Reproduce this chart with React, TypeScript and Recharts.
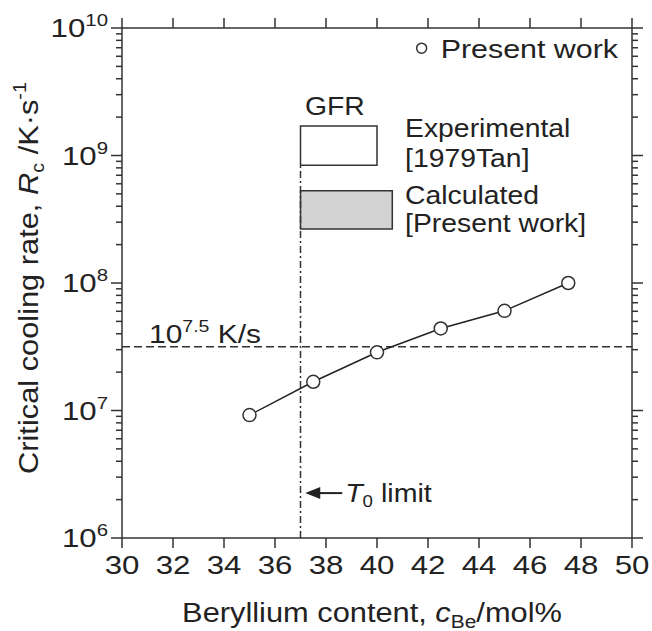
import React from 'react';
import {
  ComposedChart,
  Line,
  XAxis,
  YAxis,
  ReferenceLine,
  ReferenceArea,
  ReferenceDot,
} from 'recharts';

// Present work: critical cooling rate vs Be content
const beContent = [35, 37.5, 40, 42.5, 45, 47.5];
const coolingRate = [9.2e6, 1.68e7, 2.86e7, 4.4e7, 6.05e7, 1.0e8];

// axes
const xTicks = [30, 32, 34, 36, 38, 40, 42, 44, 46, 48, 50];
const yMajorTicks = [1e6, 1e7, 1e8, 1e9, 1e10];
const yMinorFactors = [2, 3, 4, 5, 6, 7, 8, 9];
const yMinorTicks = yMajorTicks.slice(0, -1).flatMap((d) => yMinorFactors.map((f) => d * f));
const yAllTicks = [...yMajorTicks, ...yMinorTicks].sort((a, b) => a - b);

// reference lines
const t0Limit = 37;
const criticalRate = Math.pow(10, 7.5);

// GFR boxes
const expBoxX = [37, 40];
const expBoxY = [8.4e8, 1.7e9];
const calcBoxX = [37, 40.6];
const calcBoxY = [2.65e8, 5.3e8];

const points = beContent.map((x, i) => ({ x, rate: coolingRate[i] }));

const FONT = '"Liberation Sans", Arial, Helvetica, sans-serif';
const INK = '#222';
const AXIS = '#333';

// text drawn a bit wider, like the original figure's font
function Stretch({ x, y, sx = 1.12, rotate = 0, anchor = 'start', size = 26, children }: any) {
  return (
    <g transform={`translate(${x},${y}) rotate(${rotate}) scale(${sx},1)`}>
      <text x={0} y={0} textAnchor={anchor} fontFamily={FONT} fontSize={size} fill={INK}>
        {children}
      </text>
    </g>
  );
}

const NoLabel = () => <g />;

const XTick = (props: any) => (
  <Stretch x={props.x} y={props.y + 24} anchor="middle" sx={1.2}>
    {props.payload.value}
  </Stretch>
);

// log ticks: long ones at decades (with label on the left side), short ones between
const makeYTick = (side: 'left' | 'right') => (props: any) => {
  const v = props.payload.value;
  const major = yMajorTicks.includes(v);
  const len = major ? 11 : 6;
  const dir = side === 'left' ? -1 : 1;
  const exp = Math.round(Math.log10(v));
  return (
    <g>
      <line x1={props.x} y1={props.y} x2={props.x + dir * len} y2={props.y} stroke={AXIS} strokeWidth={1.5} />
      {major && side === 'left' && (
        <Stretch x={props.x - 14} y={props.y + 9} anchor="end" sx={1.2}>
          <tspan>10</tspan>
          <tspan fontSize={17} dy={-11}>{exp}</tspan>
        </Stretch>
      )}
    </g>
  );
};
const YTickLeft = makeYTick('left');
const YTickRight = makeYTick('right');

const XTitle = (props: any) => {
  const vb = props.viewBox || { x: 122, y: 538, width: 510 };
  return (
    <Stretch x={vb.x + vb.width / 2 - 5} y={vb.y + 84} anchor="middle" size={28} sx={1.1}>
      <tspan>Beryllium content, </tspan>
      <tspan fontStyle="italic">c</tspan>
      <tspan fontSize={19} dy={6}>Be</tspan>
      <tspan dy={-6}>/mol%</tspan>
    </Stretch>
  );
};

const YTitle = (props: any) => {
  const vb = props.viewBox || { x: 22, y: 28, width: 100, height: 510 };
  return (
    <Stretch
      x={vb.x + vb.width - 84}
      y={vb.y + vb.height / 2 - 5}
      rotate={-90}
      anchor="middle"
      size={28}
      sx={1.1}
    >
      <tspan>Critical cooling rate, </tspan>
      <tspan fontStyle="italic">R</tspan>
      <tspan fontSize={18} dy={6}>c</tspan>
      <tspan dy={-6}> /K·s</tspan>
      <tspan fontSize={18} dy={-12}>-1</tspan>
    </Stretch>
  );
};

const note = (content: React.ReactNode, anchor = 'start', sx = 1.12) => (p: any) => (
  <Stretch x={p.cx} y={p.cy} anchor={anchor} sx={sx}>
    {content}
  </Stretch>
);

const LegendMark = (p: any) => (
  <g>
    <circle cx={p.cx} cy={p.cy} r={5} fill="#fff" stroke={AXIS} strokeWidth={1.5} />
    <Stretch x={p.cx + 19} y={p.cy + 10} sx={1.17}>Present work</Stretch>
  </g>
);

const T0Arrow = (p: any) => (
  <g>
    <line x1={p.cx - 8} y1={p.cy} x2={p.cx + 15} y2={p.cy} stroke={INK} strokeWidth={2} />
    <polygon points={`${p.cx - 22},${p.cy} ${p.cx - 7},${p.cy - 6} ${p.cx - 7},${p.cy + 6}`} fill={INK} />
  </g>
);

export default function App() {
  return (
    <div style={{ position: 'absolute', left: 0, top: 0, width: 652, height: 631, background: '#fff' }}>
      <ComposedChart width={652} height={631} data={points} margin={{ top: 18, right: 10, bottom: 63, left: 22 }}>
        <XAxis
          xAxisId="b"
          dataKey="x"
          type="number"
          domain={[30, 50]}
          ticks={xTicks}
          interval={0}
          height={30}
          tickSize={10}
          tick={XTick}
          stroke={AXIS}
          strokeWidth={1.5}
          allowDataOverflow
          label={XTitle}
        />
        <XAxis
          xAxisId="t"
          orientation="top"
          dataKey="x"
          type="number"
          domain={[30, 50]}
          ticks={xTicks}
          interval={0}
          height={10}
          tickSize={10}
          tick={NoLabel}
          stroke={AXIS}
          strokeWidth={1.5}
          allowDataOverflow
        />
        <YAxis
          yAxisId="l"
          type="number"
          scale="log"
          domain={[1e6, 1e10]}
          ticks={yAllTicks}
          interval={0}
          width={100}
          tickSize={0}
          tickMargin={0}
          tickLine={false}
          tick={YTickLeft}
          stroke={AXIS}
          strokeWidth={1.5}
          allowDataOverflow
          label={YTitle}
        />
        <YAxis
          yAxisId="r"
          orientation="right"
          type="number"
          scale="log"
          domain={[1e6, 1e10]}
          ticks={yAllTicks}
          interval={0}
          width={10}
          tickSize={0}
          tickMargin={0}
          tickLine={false}
          tick={YTickRight}
          stroke={AXIS}
          strokeWidth={1.5}
          allowDataOverflow
        />

        <ReferenceLine
          xAxisId="b"
          yAxisId="l"
          y={criticalRate}
          stroke={AXIS}
          strokeWidth={1.5}
          strokeDasharray="8 4"
        />
        <ReferenceLine
          xAxisId="b"
          yAxisId="l"
          segment={[{ x: t0Limit, y: 1e6 }, { x: t0Limit, y: expBoxY[0] }]}
          stroke={AXIS}
          strokeWidth={1.5}
          strokeDasharray="7 3 2 3"
        />
        <ReferenceArea
          xAxisId="b"
          yAxisId="l"
          x1={expBoxX[0]}
          x2={expBoxX[1]}
          y1={expBoxY[0]}
          y2={expBoxY[1]}
          fill="#fff"
          fillOpacity={1}
          stroke={AXIS}
          strokeWidth={1.5}
        />
        <ReferenceArea
          xAxisId="b"
          yAxisId="l"
          x1={calcBoxX[0]}
          x2={calcBoxX[1]}
          y1={calcBoxY[0]}
          y2={calcBoxY[1]}
          fill="#d3d3d3"
          fillOpacity={1}
          stroke={AXIS}
          strokeWidth={1.5}
        />

        <Line
          xAxisId="b"
          yAxisId="l"
          dataKey="rate"
          type="linear"
          stroke={INK}
          strokeWidth={1.5}
          dot={{ r: 6.5, fill: '#fff', stroke: AXIS, strokeWidth: 1.5 }}
          isAnimationActive={false}
        />

        <ReferenceDot xAxisId="b" yAxisId="l" x={38.35} y={2.08e9} r={1} shape={note('GFR', 'middle', 1.09)} />
        <ReferenceDot xAxisId="b" yAxisId="l" x={41.1} y={1.405e9} r={1} shape={note('Experimental', 'start', 1.09)} />
        <ReferenceDot xAxisId="b" yAxisId="l" x={41.1} y={8.17e8} r={1} shape={note('[1979Tan]', 'start', 1.09)} />
        <ReferenceDot xAxisId="b" yAxisId="l" x={41.1} y={4.2e8} r={1} shape={note('Calculated', 'start', 1.09)} />
        <ReferenceDot xAxisId="b" yAxisId="l" x={41.1} y={2.51e8} r={1} shape={note('[Present work]', 'start', 1.09)} />
        <ReferenceDot xAxisId="b" yAxisId="l" x={41.75} y={6.95e9} r={1} shape={LegendMark} />
        <ReferenceDot
          xAxisId="b"
          yAxisId="l"
          x={31.06}
          y={3.38e7}
          r={1}
          shape={note(
            <>
              <tspan>10</tspan>
              <tspan fontSize={17} dy={-11}>7.5</tspan>
              <tspan dy={11}> K/s</tspan>
            </>,
            'start',
            1.15,
          )}
        />
        <ReferenceDot xAxisId="b" yAxisId="l" x={38.05} y={2.25e6} r={1} shape={T0Arrow} />
        <ReferenceDot
          xAxisId="b"
          yAxisId="l"
          x={38.75}
          y={1.91e6}
          r={1}
          shape={note(
            <>
              <tspan fontStyle="italic">T</tspan>
              <tspan fontSize={17} dy={5}>0</tspan>
              <tspan dy={-5}> limit</tspan>
            </>,
            'start',
            1.1,
          )}
        />
      </ComposedChart>
    </div>
  );
}
